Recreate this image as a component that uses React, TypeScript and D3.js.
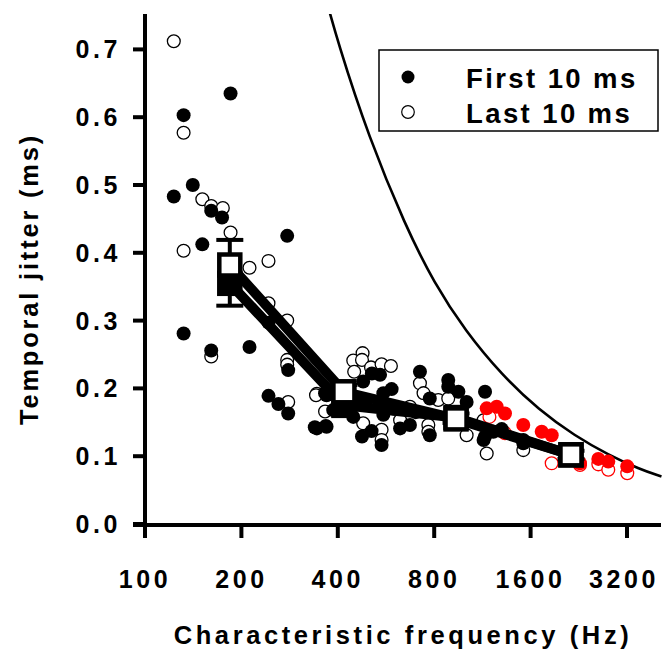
import React from 'react';
import * as d3 from 'd3';

// ---- axis ticks ----
const xTickValues = [100, 200, 400, 800, 1600, 3200];
const yTickValues = [0, 0.1, 0.2, 0.3, 0.4, 0.5, 0.6, 0.7];

// ---- First 10 ms (filled, black) ----
const firstFreq = [185, 132, 141, 123, 161, 174, 151, 278, 243, 132, 161, 212, 280, 243, 261, 280, 344, 369, 369,
  511, 542, 480, 365, 555, 589, 493, 542, 447, 387, 339, 367, 476, 510, 548, 626, 672, 722, 555,
  775, 885, 952, 1010, 1153, 1153, 1224, 775, 885, 1141, 1518, 1518, 450, 600, 700, 1300];
const firstJitter = [0.635, 0.603, 0.5, 0.483, 0.462, 0.452, 0.4125, 0.425, 0.297, 0.281, 0.256, 0.261, 0.227, 0.189, 0.177, 0.163, 0.141, 0.1435, 0.19,
  0.222, 0.22, 0.21, 0.193, 0.193, 0.199, 0.183, 0.1755, 0.158, 0.168, 0.1426, 0.1445, 0.129, 0.137, 0.1165, 0.141, 0.146, 0.2246, 0.161,
  0.131, 0.2124, 0.195, 0.18, 0.195, 0.129, 0.136, 0.185, 0.2025, 0.124, 0.124, 0.119, 0.18, 0.17, 0.165, 0.14];

// ---- Last 10 ms (open, black) ----
const lastFreq = [123, 132, 151, 161, 175, 132, 185, 243, 212, 243, 278, 161, 278, 278, 280, 344, 365,
  478, 447, 476, 508, 450, 548, 586, 342, 548, 548, 626, 672, 722, 480,
  767, 767, 824, 885, 1010, 1167, 1141, 1518, 741];
const lastJitter = [0.712, 0.577, 0.479, 0.469, 0.466, 0.403, 0.43, 0.388, 0.378, 0.3255, 0.3, 0.247, 0.242, 0.235, 0.18, 0.192, 0.166,
  0.252, 0.241, 0.242, 0.231, 0.2246, 0.2356, 0.233, 0.19, 0.139, 0.124, 0.153, 0.173, 0.2075, 0.1485,
  0.146, 0.136, 0.183, 0.185, 0.131, 0.104, 0.153, 0.109, 0.193];

// ---- points highlighted in red ----
const redFirstFreq = [1167, 1254, 1331, 1518, 1733, 1862, 2282, 2604, 2797, 3206];
const redFirstJitter = [0.1706, 0.173, 0.163, 0.146, 0.136, 0.131, 0.0895, 0.096, 0.092, 0.085];
const redLastFreq = [1190, 1331, 1862, 2282, 2604, 2797, 3206];
const redLastJitter = [0.158, 0.134, 0.0895, 0.087, 0.088, 0.08, 0.075];

// ---- group means ----
const meanFreq = [184, 418, 936, 2139];
const meanFirst = [0.355, 0.175, 0.157, 0.102];
const meanLast = [0.382, 0.195, 0.155, 0.102];
const errFirst = [0.033, 0.01, 0.008, 0.006];
const errLast = [0.037, 0.01, 0.008, 0.006];

// ---- limit curve ----
const curveFreq = [360, 400, 500, 650, 800, 1000, 1300, 1700, 2200, 2800, 3500, 4100];
const curveJitter = [0.79, 0.71, 0.57, 0.44, 0.355, 0.285, 0.22, 0.168, 0.13, 0.102, 0.081, 0.07];

const FONT = '"Liberation Sans", Arial, Helvetica, sans-serif';

export default function App() {
  const x = d3.scaleLog().base(2).domain([100, 3200]).range([145, 627]);
  const y = d3.scaleLinear().domain([0, 0.75]).range([524, 15.5]);
  const R = 7;

  const curvePts: [number, number][] = curveFreq.map((f, i) => [f, curveJitter[i]]);
  const curvePath = d3.line<[number, number]>().x(d => x(d[0])).y(d => y(d[1])).curve(d3.curveBasis)(curvePts) || '';

  const lineGen = d3.line<number>().x((_, i) => x(meanFreq[i])).y(d => y(d));
  const firstPath = lineGen(meanFirst) || '';
  const lastPath = lineGen(meanLast) || '';

  const tickStyle: React.CSSProperties = { fontFamily: FONT, fontWeight: 'bold', fontSize: 25, letterSpacing: 3.6 };
  const sq = 21;

  return (
    <svg width={662} height={652} style={{ position: 'absolute', left: 0, top: 0, background: '#fff' }}>
      <defs>
        <clipPath id="plotclip">
          <rect x={145} y={14} width={520} height={512} />
        </clipPath>
      </defs>
      <rect x={0} y={0} width={662} height={652} fill="#fff" />

      {/* limit curve */}
      <path d={curvePath} fill="none" stroke="#000" strokeWidth={2.6} clipPath="url(#plotclip)" />

      {/* open circles (last) */}
      {lastFreq.map((f, i) => (
        <circle key={'l' + i} cx={x(f)} cy={y(lastJitter[i])} r={R - 0.6} fill="#fff" stroke="#000" strokeWidth={1.3} />
      ))}
      {redLastFreq.map((f, i) => (
        <circle key={'rl' + i} cx={x(f)} cy={y(redLastJitter[i])} r={R - 0.6} fill="#fff" stroke="#ff0000" strokeWidth={1.3} />
      ))}
      {/* filled (first) */}
      {firstFreq.map((f, i) => (
        <circle key={'f' + i} cx={x(f)} cy={y(firstJitter[i])} r={R} fill="#000" />
      ))}
      {redFirstFreq.map((f, i) => (
        <circle key={'rf' + i} cx={x(f)} cy={y(redFirstJitter[i])} r={R} fill="#ff0000" />
      ))}

      {/* mean lines */}
      <path d={firstPath} fill="none" stroke="#000" strokeWidth={10} />
      <path d={lastPath} fill="none" stroke="#000" strokeWidth={10} />

      {/* error bars */}
      {meanFreq.map((f, i) => (
        <g key={'e' + i} stroke="#000" strokeWidth={4}>
          <line x1={x(f)} x2={x(f)} y1={y(meanFirst[i] - errFirst[i])} y2={y(meanFirst[i])} />
          <line x1={x(f) - 13.5} x2={x(f) + 13.5} y1={y(meanFirst[i] - errFirst[i])} y2={y(meanFirst[i] - errFirst[i])} />
          <line x1={x(f)} x2={x(f)} y1={y(meanLast[i] + errLast[i])} y2={y(meanLast[i])} />
          <line x1={x(f) - 13.5} x2={x(f) + 13.5} y1={y(meanLast[i] + errLast[i])} y2={y(meanLast[i] + errLast[i])} />
        </g>
      ))}

      {/* squares */}
      {meanFreq.map((f, i) => (
        <rect key={'sf' + i} x={x(f) - sq / 2} y={y(meanFirst[i]) - sq / 2} width={sq} height={sq} fill="#000" stroke="#000" strokeWidth={4.5} />
      ))}
      {meanFreq.map((f, i) => (
        <rect key={'sl' + i} x={x(f) - sq / 2} y={y(meanLast[i]) - sq / 2} width={sq} height={sq} fill="#fff" stroke="#000" strokeWidth={4.5} />
      ))}

      {/* axes */}
      <line x1={145} x2={145} y1={14} y2={538} stroke="#000" strokeWidth={4} />
      <line x1={133} x2={661} y1={525} y2={525} stroke="#000" strokeWidth={4} />
      {yTickValues.map(v => (
        <g key={'yt' + v}>
          <line x1={133} x2={145} y1={y(v)} y2={y(v)} stroke="#000" strokeWidth={4} />
          <text x={121} y={y(v) + 9} textAnchor="end" style={tickStyle}>{v.toFixed(1)}</text>
        </g>
      ))}
      {xTickValues.map(v => (
        <g key={'xt' + v}>
          <line x1={x(v)} x2={x(v)} y1={525} y2={538} stroke="#000" strokeWidth={4} />
          <text x={v === 3200 ? x(v) - 3 : x(v)} y={588} textAnchor="middle" style={tickStyle}>{v}</text>
        </g>
      ))}

      {/* axis titles */}
      <text x={403} y={644} textAnchor="middle" style={{ fontFamily: FONT, fontWeight: 'bold', fontSize: 25.5, letterSpacing: 3.6 }}>
        Characteristic frequency (Hz)
      </text>
      <text transform="translate(38,279) rotate(-90)" textAnchor="middle" style={{ fontFamily: FONT, fontWeight: 'bold', fontSize: 25.5, letterSpacing: 2.8 }}>
        Temporal jitter (ms)
      </text>

      {/* legend */}
      <rect x={379} y={50} width={279} height={81} fill="#fff" stroke="#000" strokeWidth={1.5} />
      <circle cx={408} cy={77} r={6.5} fill="#000" />
      <circle cx={408} cy={112} r={6.3} fill="#fff" stroke="#000" strokeWidth={1.2} />
      <text x={466} y={88} style={{ fontFamily: FONT, fontWeight: 'bold', fontSize: 27.5, letterSpacing: 2.4 }}>First 10 ms</text>
      <text x={466} y={123} style={{ fontFamily: FONT, fontWeight: 'bold', fontSize: 27.5, letterSpacing: 2.4 }}>Last 10 ms</text>
    </svg>
  );
}
